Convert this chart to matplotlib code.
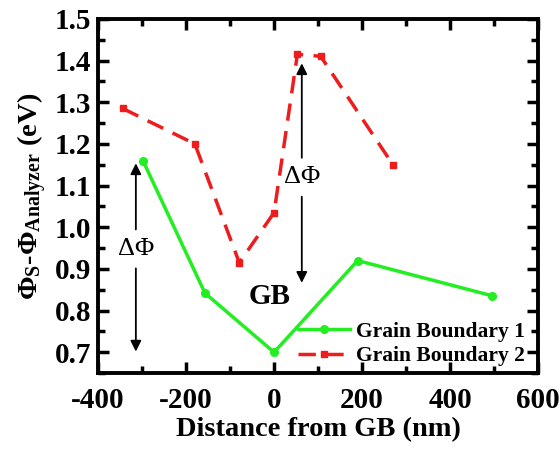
import matplotlib.pyplot as plt
from matplotlib.ticker import MultipleLocator

plt.rcParams['font.family'] = 'Liberation Serif'
plt.rcParams['font.weight'] = 'bold'
plt.rcParams['axes.unicode_minus'] = False
plt.rcParams['mathtext.fontset'] = 'custom'
plt.rcParams['mathtext.rm'] = 'Liberation Serif:bold'
plt.rcParams['mathtext.it'] = 'Liberation Serif:bold'
plt.rcParams['mathtext.bf'] = 'Liberation Serif:bold'

# data
gb1_x = [-298, -157, 0, 190, 494]
gb1_y = [1.16, 0.842, 0.70, 0.92, 0.836]

gb2_x = [-344, -180, -79, 0, 53, 106, 270]
gb2_y = [1.285, 1.20, 0.915, 1.035, 1.415, 1.41, 1.15]

labels = ["Grain Boundary 1", "Grain Boundary 2"]

fig, ax = plt.subplots(figsize=(5.6, 4.49), dpi=100)
fig.subplots_adjust(left=0.175, right=0.961, top=0.958, bottom=0.169)

ax.plot(gb1_x, gb1_y, color='#22ee22', lw=2.5, marker='o', ms=5.5, label=labels[0])
ax.plot(gb2_x, gb2_y, color='#ee1c1c', lw=2.5, ls=(0, (5, 3)), marker='s', ms=5,
        label=labels[1])

# delta phi arrows
for xa, ytop, ybot, ytxt in [(-314, 1.16, 0.695, 0.948), (63, 1.40, 0.86, 1.12)]:
    ax.annotate('', xy=(xa, ytop), xytext=(xa, ytxt + 0.04),
                arrowprops=dict(arrowstyle='-|>', color='black', lw=1.3, mutation_scale=16))
    ax.annotate('', xy=(xa, ybot), xytext=(xa, ytxt - 0.04),
                arrowprops=dict(arrowstyle='-|>', color='black', lw=1.3, mutation_scale=16))
    ax.text(xa, ytxt, 'ΔΦ', ha='center', va='center', fontsize=19, fontweight='normal')

ax.text(-10, 0.835, 'GB', ha='center', va='center', fontsize=21, fontweight='bold')

ax.set_xlim(-400, 600)
ax.set_ylim(0.65, 1.5)
ax.xaxis.set_major_locator(MultipleLocator(200))
ax.xaxis.set_minor_locator(MultipleLocator(100))
ax.yaxis.set_major_locator(MultipleLocator(0.1))
ax.yaxis.set_minor_locator(MultipleLocator(0.05))
ax.tick_params(which='both', direction='in', top=True, right=True, width=2.5)
ax.tick_params(which='major', length=8, labelsize=21)
ax.tick_params(which='minor', length=5)
ax.tick_params(axis='y', which='major', pad=5)
ax.tick_params(axis='x', which='major', pad=10)
for s in ax.spines.values():
    s.set_linewidth(2.8)

ax.set_xlabel('Distance from GB (nm)', fontsize=20.5, fontweight='bold', labelpad=2)
ax.set_ylabel(r'$\Phi_S$-$\Phi_{Analyzer}$ (eV)', fontsize=20.5, fontweight='bold', labelpad=4)

ax.legend(loc='lower right', bbox_to_anchor=(0.99, -0.005), frameon=False,
          fontsize=15.5, handlelength=2.4, borderaxespad=0.0, labelspacing=0.2,
          handletextpad=0.3)

plt.savefig('out.png', dpi=100)
plt.close()
